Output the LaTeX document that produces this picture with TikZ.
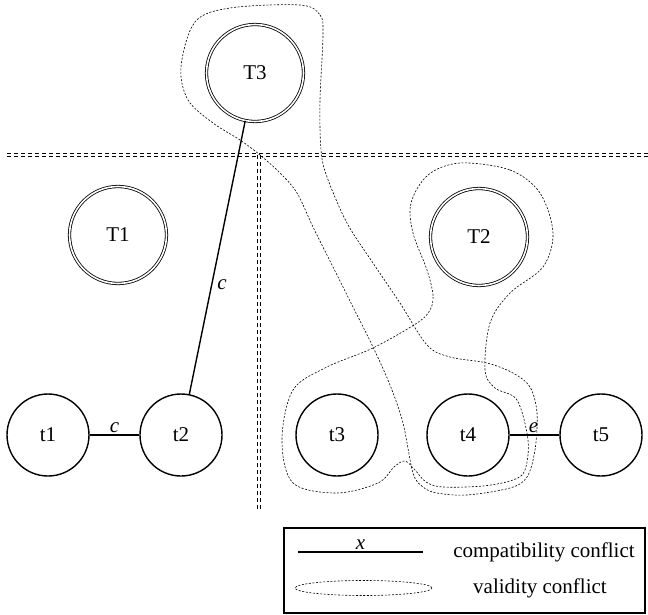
\documentclass[tikz,border=0pt]{standalone}
\usepackage{fontspec}
\setmainfont{Liberation Serif}
\usetikzlibrary{shapes.geometric}
\begin{document}
\begin{tikzpicture}[x=1pt,y=-1pt,
  every node/.style={font=\fontsize{21}{25}\selectfont},
  bigT/.style={circle,draw,double,line width=0.8pt,double distance=1.6pt,minimum size=97pt,inner sep=0pt},
  smallt/.style={circle,draw,line width=1.4pt,minimum size=82pt,inner sep=0pt},
  conflict/.style={line width=1.4pt},
  validity/.style={line width=0.6pt,dash pattern=on 2pt off 1.6pt},
  divider/.style={double,line width=1.4pt,double distance=1.2pt,dash pattern=on 4pt off 3pt},
  lbl/.style={font=\fontsize{21}{25}\selectfont\itshape,inner sep=1pt}]
\useasboundingbox (0,0) rectangle (648,615);

% dividers
\coordinate (hl) at (7,155);
\coordinate (hr) at (648,155);
\coordinate (vt) at (259,155);
\coordinate (vb) at (259,510);
\draw[divider] (hl) -- (hr);
\draw[divider] (vt) -- (vb);

% nodes
\node[bigT] (T3) at (255,73) {T3};
\node[bigT] (T1) at (118,235) {T1};
\node[bigT] (T2) at (479,237) {T2};
\node[smallt] (t1) at (48,435) {t1};
\node[smallt] (t2) at (181,435) {t2};
\node[smallt] (t3) at (337,435) {t3};
\node[smallt] (t4) at (468,435) {t4};
\node[smallt] (t5) at (601,435) {t5};

% compatibility conflicts
\draw[conflict] (t1) -- node[lbl,above=1pt]{c} (t2);
\draw[conflict] (T3) -- node[lbl,right=4pt,pos=0.6]{c} (t2);
\draw[conflict] (t4) -- node[lbl,above=1pt,pos=0.48]{e} (t5);

% validity conflicts
\draw[validity] plot[smooth cycle,tension=0.55] coordinates {
 (300,5) (320,15) (323,35) (320,100) (321,150) (327,177) (347,223) (373,263)
 (400,303) (427,345) (450,357) (487,363) (513,373) (530,387) (537,413)
 (535,450) (527,477) (510,488) (467,495) (437,493) (423,487) (413,473)
 (403,423) (390,385) (373,347) (353,307) (333,267) (313,227) (297,193)
 (280,173) (260,155) (240,140) (213,123) (188,100) (181,67) (195,22) (230,8)};
\draw[validity] plot[smooth cycle,tension=0.55] coordinates {
 (460,163) (510,170) (540,193) (553,233) (543,267) (510,293) (490,323)
 (485,370) (495,388) (517,400) (528,440) (525,470) (513,480) (483,486)
 (443,487) (426,482) (415,470) (405,461) (394,467) (378,483) (337,493) (293,483)
 (282,440) (293,390) (327,367) (373,348) (417,323) (430,310) (433,295)
 (427,270) (413,233) (411,203) (428,175)};

% legend
\node[draw,line width=1.1pt,minimum width=361pt,minimum height=85pt,inner sep=0pt] (legend) at (464.5,570.5) {};
\coordinate (la) at (298,552);
\coordinate (lb) at (423,552);
\draw[conflict] (la) -- node[lbl,above=1pt]{x} (lb);
\node (lt1) at (544,552) {compatibility conflict};
\node[validity,draw,ellipse,minimum width=137pt,minimum height=15pt,inner sep=0pt] (le) at (363.5,588) {};
\node (lt2) at (540,588) {validity conflict};
\end{tikzpicture}
\end{document}
